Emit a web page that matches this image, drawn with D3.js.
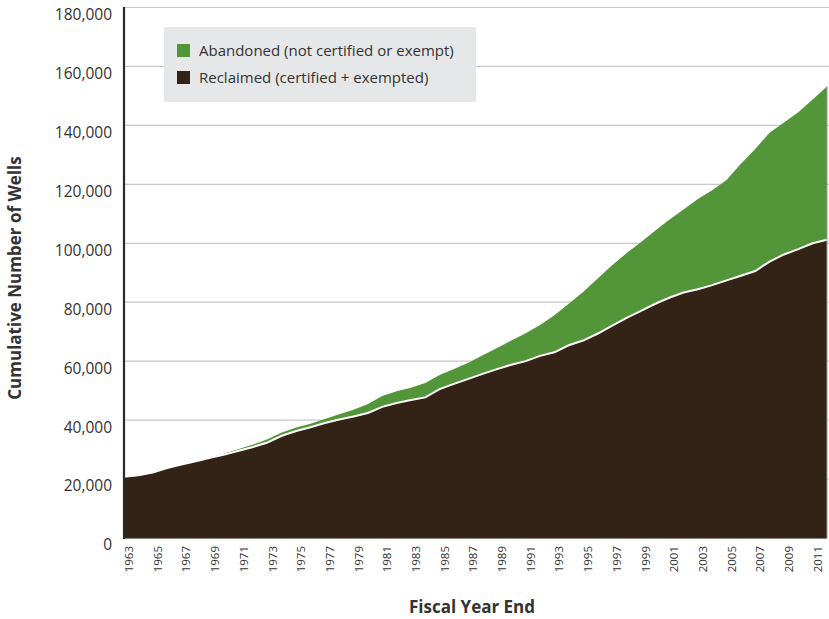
<!DOCTYPE html>
<html><head><meta charset="utf-8">
<script src="https://cdn.jsdelivr.net/npm/d3@7"></script>
<style>
body{margin:0;background:#fff;}
text{font-family:"Open Sans","Noto Sans",sans-serif;fill:#333;}
</style></head>
<body><svg id="chart" width="829" height="619"></svg>
<script>
const years = d3.range(1963, 2013);
const reclaimed = [20800,21300,22200,23700,24900,26000,27200,28300,29600,30900,
  32400,34700,36300,37600,39000,40200,41200,42400,44500,45800,
  46800,47700,50500,52300,54000,55700,57300,58800,60000,61800,
  63000,65400,67000,69300,72000,74600,77000,79400,81500,83300,
  84400,85800,87400,89000,90600,93800,96200,98000,100000,101200];
const abandoned = [0,0,0,0,0,100,200,400,600,800,
  1100,1100,1200,1200,1400,1800,2300,3100,3700,4000,
  4200,4900,4800,5000,5500,6300,7200,8200,9500,10500,
  12600,14100,16500,18700,20500,21900,23300,24800,26500,28200,
  30600,32200,34100,38000,41400,43700,44800,46500,48800,52000];
const yTicks = [0,20000,40000,60000,80000,100000,120000,140000,160000,180000];
const xTickYears = years.filter(y => y % 2 === 1);
const seriesNames = ["Abandoned (not certified or exempt)", "Reclaimed (certified + exempted)"];
const seriesColors = ["#53963a", "#332216"];

const svg = d3.select("#chart");
const x = d3.scaleLinear().domain([1963, 2012]).range([124, 827]);
const y = d3.scaleLinear().domain([0, 180000]).range([538, 7.5]);

// gridlines
svg.append("g").selectAll("line").data(yTicks.filter(d => d > 0)).join("line")
  .attr("x1", 124).attr("x2", 829)
  .attr("y1", d => y(d)).attr("y2", d => y(d))
  .attr("stroke", "#c8c8c8").attr("stroke-width", 1.2);

const data = years.map((yr, i) => ({year: yr, reclaimed: reclaimed[i], abandoned: abandoned[i]}));
const stack = d3.stack().keys(["reclaimed", "abandoned"]);
const stacked = stack(data);
const area = d3.area().x(d => x(d.data.year)).y0(d => y(d[0])).y1(d => y(d[1]));

svg.append("path").datum(stacked[1]).attr("d", area).attr("fill", seriesColors[0]);
svg.append("path").datum(stacked[0]).attr("d", area).attr("fill", seriesColors[1]);
svg.append("path").datum(stacked[0])
  .attr("d", d3.line().x(d => x(d.data.year)).y(d => y(d[1])))
  .attr("fill", "none").attr("stroke", "#fff").attr("stroke-width", 2);

// right edge and bottom line
svg.append("line").attr("x1", x(2012)).attr("x2", x(2012)).attr("y1", y(stacked[1][49][1])).attr("y2", y(0))
  .attr("stroke", "#9a9a9a").attr("stroke-width", 1);
svg.append("line").attr("x1", 124).attr("x2", x(2012)).attr("y1", y(0)+0.5).attr("y2", y(0)+0.5)
  .attr("stroke", "#888").attr("stroke-width", 1);

// y axis
svg.append("line").attr("x1", 124).attr("x2", 124).attr("y1", 7).attr("y2", 539)
  .attr("stroke", "#2a2a2a").attr("stroke-width", 2.2);
svg.append("g").selectAll("text").data(yTicks).join("text")
  .attr("x", 112).attr("y", d => y(d) + 7).attr("dy", "0.35em")
  .attr("text-anchor", "end").style("font-size", "15.5px")
  .text(d3.format(","));

// x tick labels
svg.append("g").selectAll("text").data(xTickYears).join("text")
  .attr("transform", d => `translate(${x(d) + 5},546) rotate(-90)`)
  .attr("text-anchor", "end").attr("dy", "0.35em")
  .style("font-size", "11.5px")
  .text(d => d);

// axis titles
svg.append("text").attr("transform", "translate(21,278) rotate(-90)")
  .attr("text-anchor", "middle").style("font-size", "17px").style("font-weight", "bold")
  .text("Cumulative Number of Wells");
svg.append("text").attr("x", 472).attr("y", 613)
  .attr("text-anchor", "middle").style("font-size", "17px").style("font-weight", "bold")
  .text("Fiscal Year End");

// legend
const lg = svg.append("g");
lg.append("rect").attr("x", 164).attr("y", 27).attr("width", 312).attr("height", 75).attr("fill", "#e6e7e8");
lg.selectAll("g.item").data(seriesNames).join("g").attr("class", "item")
  .attr("transform", (d, i) => `translate(177,${44 + i * 27})`)
  .each(function(d, i) {
    const g = d3.select(this);
    g.append("rect").attr("width", 13).attr("height", 13).attr("fill", seriesColors[i]);
    g.append("text").attr("x", 22).attr("y", 6.5).attr("dy", "0.35em")
      .style("font-size", "15px").text(d);
  });
</script></body></html>
